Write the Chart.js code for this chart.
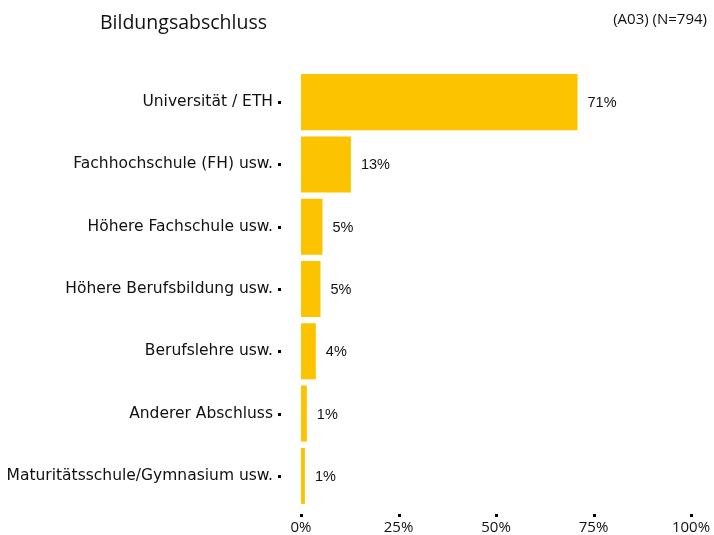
<!DOCTYPE html>
<html>
<head>
<meta charset="utf-8">
<script src="https://cdn.jsdelivr.net/npm/chart.js@4/dist/chart.umd.min.js"></script>
<style>
  html, body { margin: 0; padding: 0; background: #fff; overflow: hidden; }
  canvas { display: block; }
</style>
</head>
<body>
<canvas id="chart" width="714" height="535"></canvas>
<script>
const categories = [
  "Universität / ETH",
  "Fachhochschule (FH) usw.",
  "Höhere Fachschule usw.",
  "Höhere Berufsbildung usw.",
  "Berufslehre usw.",
  "Anderer Abschluss",
  "Maturitätsschule/Gymnasium usw."
];
const shares = [70.9, 12.8, 5.5, 5.0, 3.8, 1.5, 1.0];
const shareLabels = ["71%", "13%", "5%", "5%", "4%", "1%", "1%"];
const xTicks = [0, 25, 50, 75, 100];

const chartTitle = "Bildungsabschluss";
const chartNote = "(A03) (N=794)";
const barColor = "#FBC300";

// texte oben, werte an den balken, kleine tick-punkte
const extras = {
  id: "extras",
  afterDraw(chart) {
    const ctx = chart.ctx;
    const x = chart.scales.x;
    const y = chart.scales.y;
    ctx.save();

    ctx.fillStyle = "#111";
    ctx.textBaseline = "middle";
    ctx.font = "19.5px 'Open Sans', sans-serif";
    ctx.textAlign = "left";
    ctx.fillText(chartTitle, 100, 23);
    ctx.font = "15px 'Open Sans', sans-serif";
    ctx.textAlign = "right";
    ctx.fillText(chartNote, 707, 20);

    // werte
    ctx.font = "14.5px 'Liberation Sans', Arial, sans-serif";
    ctx.textAlign = "left";
    shares.forEach((v, i) => {
      ctx.fillText(shareLabels[i], x.getPixelForValue(v) + 10, y.getPixelForValue(i) + 1);
    });

    // tick marks
    ctx.fillStyle = "#000";
    categories.forEach((c, i) => {
      ctx.fillRect(278, Math.round(y.getPixelForValue(i)) - 1, 3, 3);
    });
    xTicks.forEach(t => {
      ctx.fillRect(Math.round(x.getPixelForValue(t)) - 1, 514, 3, 3);
    });
    ctx.restore();
  }
};

new Chart(document.getElementById("chart"), {
  type: "bar",
  data: {
    labels: categories,
    datasets: [{
      data: shares,
      backgroundColor: barColor,
      barPercentage: 0.9,
      categoryPercentage: 1.0
    }]
  },
  options: {
    indexAxis: "y",
    responsive: false,
    animation: false,
    layout: { padding: { top: 71, right: 23, left: 0, bottom: 0 } },
    plugins: {
      legend: { display: false },
      tooltip: { enabled: false }
    },
    scales: {
      x: {
        min: 0,
        max: 100,
        afterFit(scale) { scale.height = 28; scale.paddingLeft = 0; scale.paddingRight = 0; },
        afterBuildTicks(scale) { scale.ticks = xTicks.map(v => ({ value: v })); },
        grid: { display: false },
        border: { display: false },
        ticks: {
          padding: 4,
          maxRotation: 0,
          color: "#111",
          font: { family: "'Open Sans', sans-serif", size: 15 },
          callback: v => v + "%"
        }
      },
      y: {
        afterFit(scale) { scale.width = 301; scale.paddingTop = 0; scale.paddingBottom = 0; },
        grid: { display: false },
        border: { display: false },
        ticks: {
          padding: 20,
          color: "#111",
          font: { family: "'DejaVu Sans', sans-serif", size: 15.5 }
        }
      }
    }
  },
  plugins: [extras]
});
</script>
</body>
</html>
